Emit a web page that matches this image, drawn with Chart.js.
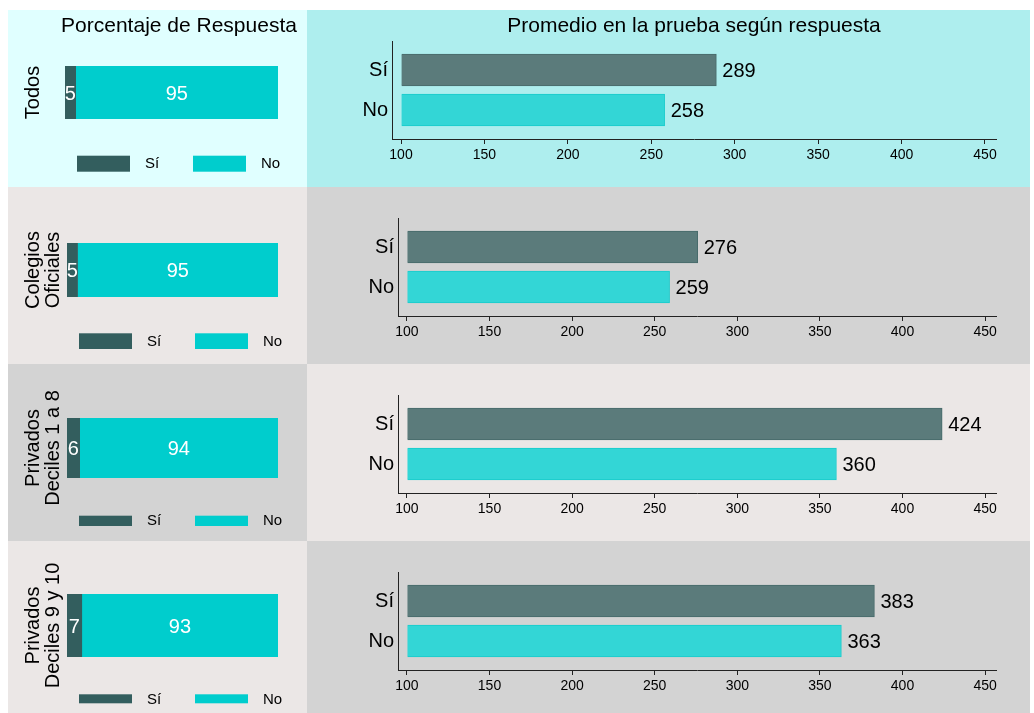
<!DOCTYPE html>
<html>
<head>
<meta charset="utf-8">
<script src="https://cdn.jsdelivr.net/npm/chart.js@4"></script>
<style>
  body { margin: 0; background: #fff; overflow: hidden; font-family: "Liberation Sans", Arial, sans-serif; }
  #wrap { position: relative; width: 1034px; height: 713px; }
  .panel { position: absolute; }
  .panel canvas { position: absolute; left: 0; top: 0; }
  .titulo { position: absolute; font-size: 21px; color: #000; white-space: nowrap; transform: translate(-50%, -50%); }
</style>
</head>
<body>
<div id="wrap">
  <div class="titulo" style="left:179px; top:25px; z-index:2">Porcentaje de Respuesta</div>
  <div class="titulo" style="left:694px; top:25px; z-index:2">Promedio en la prueba según respuesta</div>
</div>
<script>
// datos
const grupos = [['Todos'], ['Colegios', 'Oficiales'], ['Privados', 'Deciles 1 a 8'], ['Privados', 'Deciles 9 y 10']];
const respuestas = ['Sí', 'No'];
const pctSi = [5, 5, 6, 7];
const pctNo = [95, 95, 94, 93];
const promSi = [289, 276, 424, 383];
const promNo = [258, 259, 360, 363];
const ejeTicks = [100, 150, 200, 250, 300, 350, 400, 450];

// colores
const colSiPct = '#335e5e';
const colNoPct = '#00cdcd';
const colSiProm = '#5b7b7b';
const colSiBorde = '#466a6a';
const colNoProm = '#33d6d6';
const colNoBorde = '#18cbcb';
const fondos = [['#e0ffff', '#aeeeee'], ['#ebe7e6', '#d3d3d3'], ['#d3d3d3', '#ebe7e6'], ['#ebe7e6', '#d3d3d3']];

// posiciones de cada fila (relativas al panel)
const filaTop = [10, 187, 364, 541];
const filaAlto = 177;
const izqAncho = 299, derAncho = 723;
const izqArea = [ // left, top, bottom del area de la barra
  { left: 57, top: 56, bottom: 109, legTop: 145.7, legAlto: 16, legTexto: 153.5, legX: 69 },
  { left: 59, top: 56, bottom: 110, legTop: 146.3, legAlto: 15.7, legTexto: 155, legX: 71 },
  { left: 59, top: 54, bottom: 114, legTop: 151.7, legAlto: 10.3, legTexto: 157, legX: 71 },
  { left: 59, top: 53, bottom: 116, legTop: 153.3, legAlto: 9, legTexto: 159, legX: 71 }
];
const derEjeY = [85, 91, 91, 91];

const fuente = '"Liberation Sans", Arial, sans-serif';

// texto blanco dentro de cada segmento
const etiquetasDentro = {
  id: 'etiquetasDentro',
  afterDatasetsDraw(chart) {
    const ctx = chart.ctx;
    ctx.save();
    ctx.fillStyle = '#fff';
    ctx.font = '20px ' + fuente;
    ctx.textAlign = 'center';
    ctx.textBaseline = 'middle';
    chart.data.datasets.forEach((ds, di) => {
      chart.getDatasetMeta(di).data.forEach((bar, j) => {
        ctx.fillText(ds.data[j], (bar.x + bar.base) / 2, bar.y + 1.5);
      });
    });
    ctx.restore();
  }
};

// leyenda Sí / No debajo de la barra
const leyenda = {
  id: 'leyenda',
  afterDraw(chart, args, opts) {
    const ctx = chart.ctx;
    ctx.save();
    ctx.font = '15px ' + fuente;
    ctx.textBaseline = 'middle';
    chart.data.datasets.forEach((ds, di) => {
      const x = opts.x + di * 116;
      ctx.fillStyle = ds.backgroundColor;
      ctx.fillRect(x, opts.top, 53, opts.alto);
      ctx.fillStyle = '#000';
      ctx.fillText(ds.label, x + 68, opts.texto);
    });
    ctx.restore();
  }
};

// valor al final de cada barra
const etiquetasFin = {
  id: 'etiquetasFin',
  afterDatasetsDraw(chart) {
    const ctx = chart.ctx;
    ctx.save();
    ctx.fillStyle = '#000';
    ctx.font = '20px ' + fuente;
    ctx.textAlign = 'left';
    ctx.textBaseline = 'middle';
    chart.data.datasets.forEach((ds, di) => {
      chart.getDatasetMeta(di).data.forEach((bar, j) => {
        ctx.fillText(ds.data[j].x, bar.x + 6, bar.y + 1);
      });
    });
    ctx.restore();
  }
};

function panel(x, y, w, h, fondo) {
  const div = document.createElement('div');
  div.className = 'panel';
  div.style.cssText = `left:${x}px;top:${y}px;width:${w}px;height:${h}px;background:${fondo}`;
  const cv = document.createElement('canvas');
  cv.width = w;
  cv.height = h;
  div.appendChild(cv);
  document.getElementById('wrap').appendChild(div);
  return cv;
}

grupos.forEach((grupo, i) => {
  const A = izqArea[i];

  // panel izquierdo: porcentaje de respuesta
  const cvIzq = panel(8, filaTop[i], izqAncho, filaAlto, fondos[i][0]);
  new Chart(cvIzq, {
    type: 'bar',
    data: {
      labels: [''],
      datasets: [
        { label: respuestas[0], data: [pctSi[i]], backgroundColor: colSiPct },
        { label: respuestas[1], data: [pctNo[i]], backgroundColor: colNoPct }
      ]
    },
    options: {
      indexAxis: 'y',
      responsive: false,
      animation: false,
      barPercentage: 1,
      categoryPercentage: 1,
      layout: { padding: { left: 0, top: A.top, right: izqAncho - 270, bottom: filaAlto - A.bottom } },
      scales: {
        x: { stacked: true, display: false, min: 0, max: 100 },
        y: {
          stacked: true,
          ticks: { display: false },
          grid: { display: false, drawTicks: false },
          border: { display: false },
          title: {
            display: true,
            text: grupo,
            color: '#000',
            font: { family: fuente, size: 20, lineHeight: 1 },
            padding: { top: 15.5, bottom: 0 }
          },
          afterFit: s => { s.width = A.left; }
        }
      },
      plugins: {
        legend: { display: false },
        tooltip: { enabled: false },
        leyenda: { x: A.legX, top: A.legTop, alto: A.legAlto, texto: A.legTexto }
      }
    },
    plugins: [etiquetasDentro, leyenda]
  });

  // panel derecho: promedio en la prueba
  const cvDer = panel(307, filaTop[i], derAncho, filaAlto, fondos[i][1]);
  new Chart(cvDer, {
    type: 'bar',
    data: {
      datasets: [{
        label: 'Promedio',
        data: [{ x: promSi[i], y: 0 }, { x: promNo[i], y: 1 }],
        base: 100,
        backgroundColor: [colSiProm, colNoProm],
        borderColor: [colSiBorde, colNoBorde],
        borderWidth: 1,
        barThickness: 32
      }]
    },
    options: {
      indexAxis: 'y',
      responsive: false,
      animation: false,
      layout: { padding: { left: 0, top: 31, right: derAncho - 689, bottom: 18 } },
      scales: {
        x: {
          type: 'linear',
          min: 94.6,
          max: 456.6,
          afterBuildTicks: s => { s.ticks = ejeTicks.map(v => ({ value: v })); },
          ticks: { color: '#000', font: { family: fuente, size: 14 }, padding: 3, maxRotation: 0 },
          grid: { drawOnChartArea: false, drawTicks: true, tickLength: 5, color: '#222' },
          border: { display: true, color: '#222' },
          afterFit: s => { s.height = 30; }
        },
        y: {
          type: 'linear',
          reverse: true,
          offset: false,
          min: -0.725,
          max: 1.725,
          afterBuildTicks: s => { s.ticks = [{ value: 0 }, { value: 1 }]; },
          ticks: { color: '#000', font: { family: fuente, size: 20 }, padding: 4, callback: v => respuestas[v] },
          grid: { display: false, drawTicks: false, offset: false },
          border: { display: true, color: '#222' },
          afterFit: s => { s.width = derEjeY[i]; }
        }
      },
      plugins: {
        legend: { display: false },
        tooltip: { enabled: false }
      }
    },
    plugins: [etiquetasFin]
  });
});
</script>
</body>
</html>
